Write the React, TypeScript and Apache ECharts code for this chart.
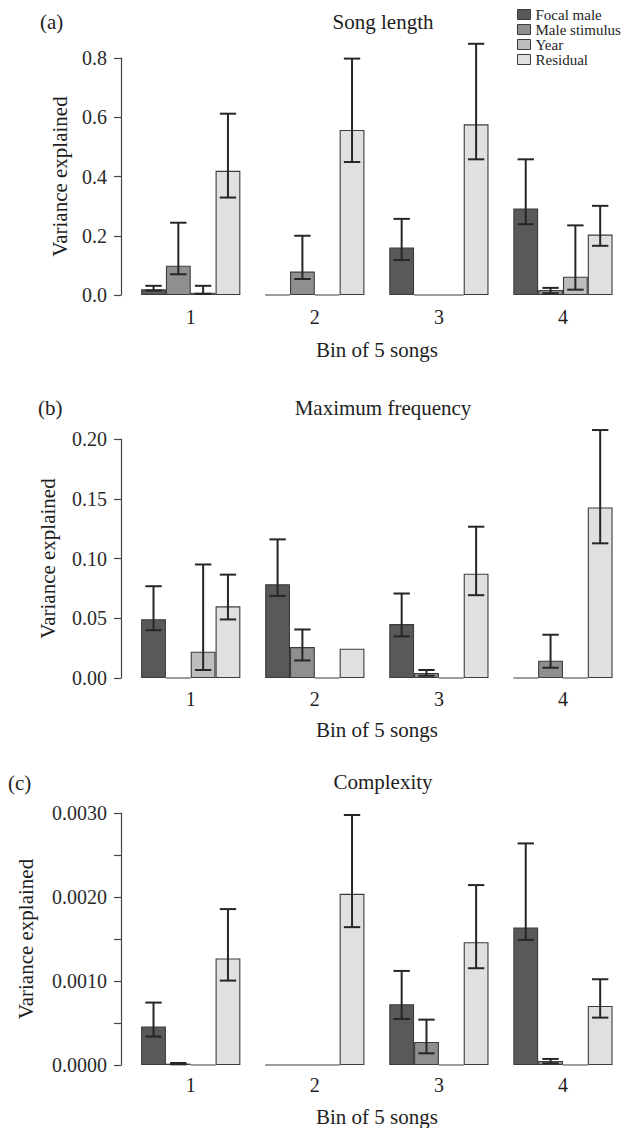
import React, { useEffect, useRef } from 'react';
import * as echarts from 'echarts';

const categories = ['1', '2', '3', '4'];
const seriesNames = ['Focal male', 'Male stimulus', 'Year', 'Residual'];
const seriesColors = ['#595959', '#8f8f8f', '#bdbdbd', '#e0e0e2'];

// (a) Song length — rows: Focal male, Male stimulus, Year, Residual
const songLengthMean = [
  [0.019, 0, 0.160, 0.292],
  [0.099, 0.079, 0, 0.017],
  [0.008, 0, 0, 0.062],
  [0.419, 0.557, 0.576, 0.204],
];
const songLengthLow = [
  [0.015, null, 0.118, 0.239],
  [0.070, 0.054, null, 0.006],
  [0.004, null, null, 0.018],
  [0.329, 0.449, 0.458, 0.166],
];
const songLengthHigh = [
  [0.031, null, 0.257, 0.458],
  [0.244, 0.200, null, 0.024],
  [0.031, null, null, 0.235],
  [0.612, 0.798, 0.848, 0.301],
];

// (b) Maximum frequency
const maxFreqMean = [
  [0.0492, 0.0784, 0.0451, 0],
  [0, 0.0259, 0.0042, 0.0145],
  [0.022, 0, 0, 0],
  [0.060, 0.0245, 0.0873, 0.1427],
];
const maxFreqLow = [
  [0.040, 0.0687, 0.0348, null],
  [null, 0.0147, 0.0019, 0.0086],
  [0.0067, null, null, null],
  [0.049, null, 0.0693, 0.1127],
];
const maxFreqHigh = [
  [0.0768, 0.116, 0.0707, null],
  [null, 0.0406, 0.0067, 0.0362],
  [0.095, null, null, null],
  [0.0865, null, 0.1266, 0.2075],
];

// (c) Complexity
const complexityMean = [
  [0.000457, 0, 0.000723, 0.001637],
  [0.000016, 0, 0.000274, 0.000048],
  [0, 0, 0, 0],
  [0.001268, 0.002038, 0.001462, 0.000703],
];
const complexityLow = [
  [0.000338, null, 0.000548, 0.00149],
  [0.000008, null, 0.000139, 0.00002],
  [null, null, null, null],
  [0.001005, 0.001641, 0.001152, 0.000564],
];
const complexityHigh = [
  [0.000743, null, 0.00112, 0.002638],
  [0.000024, null, 0.00054, 0.000072],
  [null, null, null, null],
  [0.001856, 0.002976, 0.002142, 0.001021],
];

const yTicksA = { max: 0.8, interval: 0.2, decimals: 1 };
const yTicksB = { max: 0.2, interval: 0.05, decimals: 2 };
const yTicksC = { max: 0.003, interval: 0.0005, decimals: 4 };

const FONT = "'Liberation Serif', 'DejaVu Serif', serif";
const TEXT = '#1e1e1e';

export default function App() {
  const ref = useRef<HTMLDivElement>(null);

  useEffect(() => {
    if (!ref.current) return;
    const chart = echarts.init(ref.current, undefined, { renderer: 'svg' });

    const panels = [
      { mean: songLengthMean, low: songLengthLow, high: songLengthHigh, ticks: yTicksA, top: 58, bottom: 1128 - 295, nameGap: 51, xMargin: 12, xNameGap: 44, onlyEven: false },
      { mean: maxFreqMean, low: maxFreqLow, high: maxFreqHigh, ticks: yTicksB, top: 439, bottom: 1128 - 678, nameGap: 63, xMargin: 11, xNameGap: 41, onlyEven: false },
      { mean: complexityMean, low: complexityLow, high: complexityHigh, ticks: yTicksC, top: 813, bottom: 1128 - 1065, nameGap: 85, xMargin: 10, xNameGap: 41, onlyEven: true },
    ];

    const grid: any[] = [];
    const xAxis: any[] = [];
    const yAxis: any[] = [];
    const series: any[] = [];

    panels.forEach((p, pi) => {
      grid.push({ left: 128.7, right: -10.3, top: p.top, bottom: p.bottom, containLabel: false });
      xAxis.push({
        type: 'category', gridIndex: pi, data: categories,
        axisLine: { show: false }, axisTick: { show: false }, splitLine: { show: false },
        axisLabel: { fontFamily: FONT, fontSize: 20, color: TEXT, margin: p.xMargin },
        name: 'Bin of 5 songs', nameLocation: 'middle', nameGap: p.xNameGap,
        nameTextStyle: { fontFamily: FONT, fontSize: 21, color: TEXT },
      });
      const dec = p.ticks.decimals;
      const step = p.ticks.interval;
      yAxis.push({
        type: 'value', gridIndex: pi, min: 0, max: p.ticks.max, interval: step, offset: 7.7,
        axisLine: { show: true, lineStyle: { color: '#444', width: 1.2 } },
        axisTick: { show: true, length: 7, lineStyle: { color: '#444', width: 1.2 } },
        splitLine: { show: false },
        axisLabel: {
          fontFamily: FONT, fontSize: 20, color: '#2a2a2a', margin: 14,
          formatter: (v: number) => {
            if (p.onlyEven && Math.round(v / step) % 2 !== 0) return '';
            return v.toFixed(dec);
          },
        },
        name: 'Variance explained', nameLocation: 'middle', nameGap: p.nameGap, nameRotate: 90,
        nameTextStyle: { fontFamily: FONT, fontSize: 21, color: TEXT },
      });
      seriesNames.forEach((name, si) => {
        series.push({
          type: 'bar', name, xAxisIndex: pi, yAxisIndex: pi,
          data: p.mean[si], barGap: '0%', barCategoryGap: '20%',
          itemStyle: { color: seriesColors[si], borderColor: '#3c3c3c', borderWidth: 1.1 },
          emphasis: { disabled: true },
        });
      });
      const errData: number[][] = [];
      for (let si = 0; si < 4; si++) {
        for (let c = 0; c < 4; c++) {
          const lo = p.low[si][c];
          const hi = p.high[si][c];
          if (lo !== null && hi !== null) errData.push([c, si, lo as number, hi as number]);
        }
      }
      series.push({
        type: 'custom', xAxisIndex: pi, yAxisIndex: pi, z: 5, clip: false,
        encode: { x: 0, y: [2, 3] },
        data: errData,
        renderItem: (params: any, api: any) => {
          const c = api.value(0);
          const s = api.value(1);
          const lo = api.value(2);
          const hi = api.value(3);
          const band = api.size([1, 0])[0];
          const bw = (band * 0.8) / 4;
          const center = api.coord([c, 0])[0];
          const x = center - band * 0.4 + bw * (s + 0.5);
          const yLo = api.coord([c, lo])[1];
          const yHi = api.coord([c, hi])[1];
          const cap = bw * 0.33;
          const style = { stroke: '#262626', lineWidth: 2 };
          return {
            type: 'group',
            children: [
              { type: 'line', shape: { x1: x, y1: yLo, x2: x, y2: yHi }, style },
              { type: 'line', shape: { x1: x - cap, y1: yHi, x2: x + cap, y2: yHi }, style },
              { type: 'line', shape: { x1: x - cap, y1: yLo, x2: x + cap, y2: yLo }, style },
            ],
          };
        },
      });
    });

    const txt = (text: string, x: number, y: number, align: string, size: number) => ({
      type: 'text', x, y,
      style: { text, fontFamily: FONT, fontSize: size, fill: TEXT, textAlign: align, textVerticalAlign: 'middle' },
    });

    chart.setOption({
      animation: false,
      backgroundColor: '#fff',
      grid, xAxis, yAxis, series,
      legend: {
        data: seriesNames, orient: 'vertical', left: 512, top: 2,
        itemWidth: 13, itemHeight: 10, itemGap: 0, icon: 'rect', selectedMode: false,
        textStyle: { fontFamily: FONT, fontSize: 15, color: TEXT, lineHeight: 15 },
        itemStyle: { borderColor: '#3c3c3c', borderWidth: 1 },
      },
      graphic: [
        txt('(a)', 40, 22, 'left', 21),
        txt('Song length', 383, 22, 'center', 21),
        txt('(b)', 38, 408, 'left', 21),
        txt('Maximum frequency', 383, 408, 'center', 21),
        txt('(c)', 8, 783, 'left', 21),
        txt('Complexity', 383, 782, 'center', 21),
      ],
    });

    return () => chart.dispose();
  }, []);

  return <div ref={ref} style={{ position: 'absolute', left: 0, top: 0, width: 625, height: 1128 }} />;
}
